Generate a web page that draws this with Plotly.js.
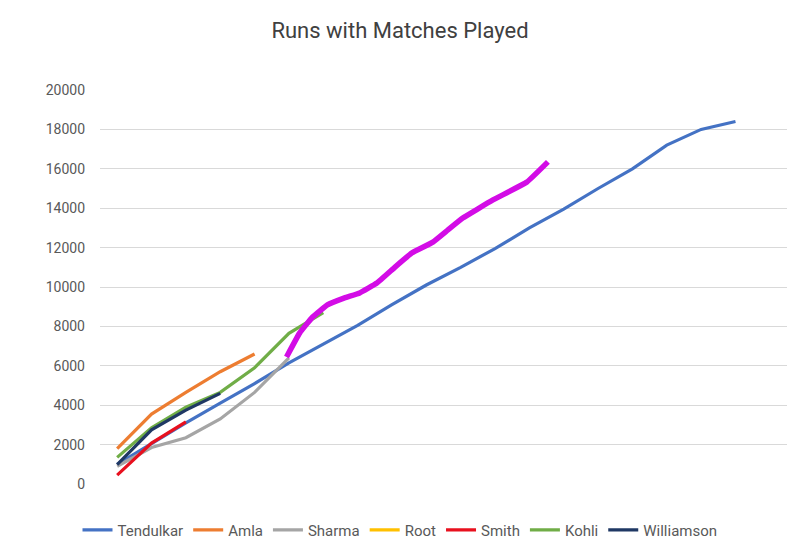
<!DOCTYPE html>
<html>
<head>
<meta charset="utf-8">
<script src="https://cdn.plot.ly/plotly-3.0.1.min.js"></script>
<style>html,body{margin:0;padding:0;background:#fff;} #chart{width:800px;height:551px;}</style>
</head>
<body>
<div id="chart"></div>
<script>
// Match index (category position) for each series
const tendulkarX = [0,1,2,3,4,5,6,7,8,9,10,11,12,13,14,15,16,17,18];
const tendulkarRuns = [1000,2050,3100,4100,5100,6150,7100,8050,9100,10100,11000,11950,13000,13950,15000,16000,17200,18000,18400];
const amlaX = [0,1,2,3,4];
const amlaRuns = [1800,3550,4650,5700,6600];
const sharmaX = [0,1,2,3,4,5];
const sharmaRuns = [900,1850,2350,3300,4650,6400];
const rootX = [0];
const rootRuns = [null];
const smithX = [0,1,2];
const smithRuns = [450,2080,3150];
const kohliX = [0,1,2,3,4,5,6];
const kohliRuns = [1350,2850,3900,4650,5900,7650,8700];
const williamsonX = [0,1,2,3];
const williamsonRuns = [980,2750,3750,4600];
// Hand-drawn extension line (not in legend)
const projX = [4.93,5.31,5.69,6.12,6.62,7.06,7.56,8.08,8.576,9.19,9.63,10.06,10.94,11.93,12.54];
const projRuns = [6450,7660,8480,9090,9450,9700,10200,11000,11730,12280,12900,13500,14420,15330,16350];

const names = ['Tendulkar','Amla','Sharma','Root','Smith','Kohli','Williamson'];
const xs = [tendulkarX, amlaX, sharmaX, rootX, smithX, kohliX, williamsonX];
const ys = [tendulkarRuns, amlaRuns, sharmaRuns, rootRuns, smithRuns, kohliRuns, williamsonRuns];
const colors = ['#4472C4','#ED7D31','#A5A5A5','#FFC000','#E8101E','#70AD47','#1F3864'];

const traces = names.map((n,i)=>({
  type:'scatter', mode:'lines', name:n, x:xs[i], y:ys[i],
  line:{color:colors[i], width:3.2}, hoverinfo:'skip'
}));
traces.push({
  type:'scatter', mode:'lines', name:'', x:projX, y:projRuns, showlegend:false,
  line:{color:'#D30CE6', width:5.5, shape:'spline', smoothing:0.3}, hoverinfo:'skip'
});

const layout = {
  width:800, height:551,
  paper_bgcolor:'#ffffff', plot_bgcolor:'#ffffff',
  margin:{l:100, r:13, t:90, b:67},
  title:{text:'Runs with Matches Played', x:0.5, xanchor:'center', y:0.945, yanchor:'middle',
    font:{family:'Roboto, sans-serif', size:22, color:'#404040'}},
  font:{family:'Roboto, sans-serif', color:'#595959'},
  xaxis:{range:[-0.5,19.5], showticklabels:false, showgrid:false, zeroline:false, showline:false, ticks:''},
  yaxis:{range:[0,20000], dtick:2000, tick0:0, showgrid:true, gridcolor:'#d9d9d9', gridwidth:1,
    zeroline:false, showline:false, ticks:'', ticklabelstandoff:14,
    tickfont:{size:14, color:'#595959'}, tickformat:'d'},
  showlegend:true,
  legend:{orientation:'h', xref:'container', yref:'container', x:0.5, xanchor:'center', y:0.038, yanchor:'middle',
    font:{size:15, color:'#595959'}, itemwidth:30, traceorder:'normal', tracegroupgap:0}
};
Plotly.newPlot('chart', traces, layout, {staticPlot:true, displayModeBar:false});
</script>
</body>
</html>
